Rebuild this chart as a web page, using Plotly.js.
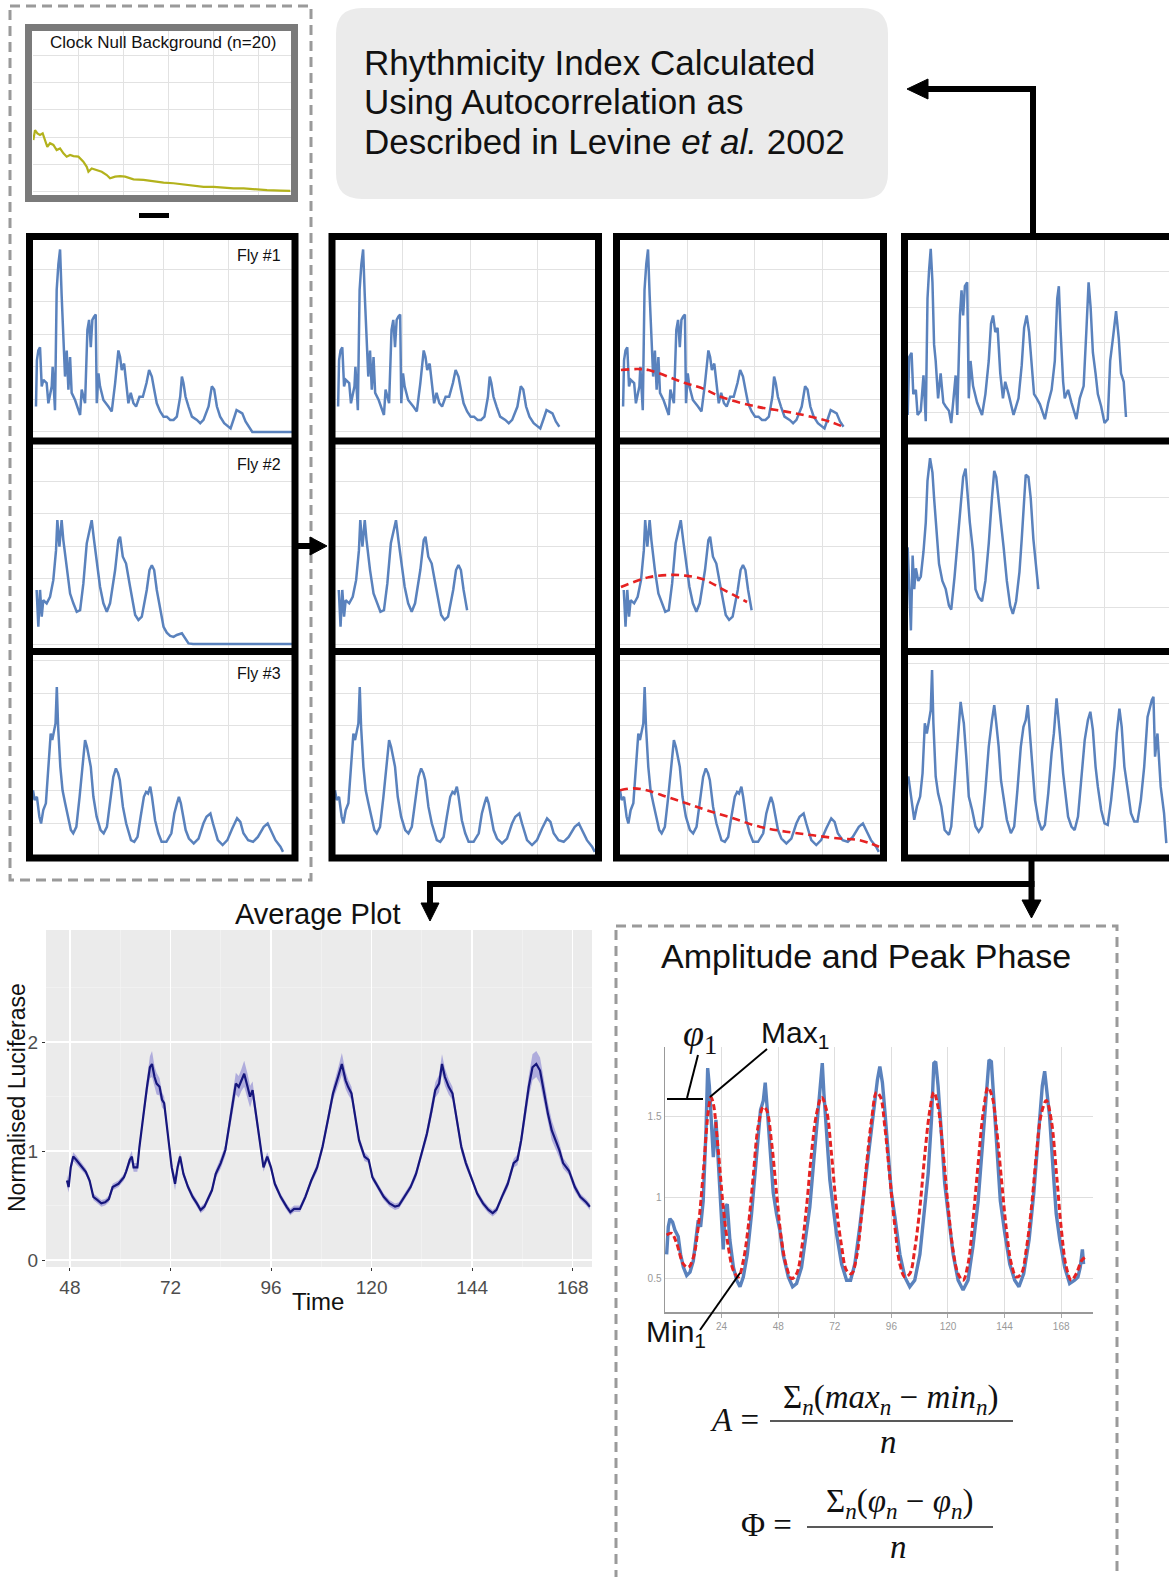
<!DOCTYPE html>
<html>
<head>
<meta charset="utf-8">
<script src="https://cdn.plot.ly/plotly-3.0.1.min.js"></script>
<style>body{margin:0;background:#fff}#myDiv{width:1169px;height:1577px}</style>
</head>
<body>
<div id="myDiv"></div>
<script>
// clock null background (mean of 20 flies)
var nullT = [0.3,1.8,3.9,6.2,8.6,10.7,12.7,15.1,18.1,21,24,27,29.9,32.9,35.9,40.3,44.7,47.7,49.2,52.1,56.6,61,65.5,68.4,72.9,77.3,81.8,89.2,98.1,107,115.9,124.7,133.6,142.5,151.4,160.3,169.2,178,187,195.9,207.7,219.6,228.4];
var nullY = [1.9,2.26,2.14,2.08,2.14,1.9,1.65,1.78,1.72,1.53,1.59,1.41,1.29,1.35,1.31,1.29,1.11,0.92,0.74,0.86,0.8,0.74,0.62,0.5,0.56,0.58,0.56,0.46,0.44,0.38,0.34,0.32,0.28,0.24,0.19,0.19,0.16,0.13,0.13,0.1,0.07,0.05,0.04];

// raw traces
var fly1T = [2.3,3,4.1,5.4,6.7,8,10.5,11.8,14.4,15.1,16.9,18.2,19.5,20.8,22,23.3,24.6,25.9,27.2,28.5,29.7,32.3,34.9,36.2,37.4,40,41.8,43.1,44.4,45.6,46.9,48.2,49,50.3,51.5,54.1,57.9,60.5,63.1,65.6,66.9,68.2,70,71.5,73.3,75.1,77.2,79.2,81.8,84.4,87.2,89.2,91.3,93.1,95.1,97.7,100.3,102.8,105.4,108,110.5,113.1,114.4,115.6,117.2,119.5,122.1,125.9,128.5,131,134.9,137.4,139.2,141.3,143.8,146.9,151.8,154.4,156.4,158.2,160.8,163.3,165.9,168.5,199];
var fly1Y = [0.78,2.2,2.5,2.6,1.4,1.6,1.5,0.88,1.4,2.0,0.67,4.36,5.15,5.6,4.2,2.7,1.7,2.5,1.3,2.3,1.2,0.98,0.67,0.52,1.3,0.88,3.13,3.44,2.6,3.44,3.54,3.6,0.88,1.8,1.4,0.98,0.78,0.63,1.5,2.5,2.3,1.9,2.1,1.5,0.88,1.2,0.88,0.78,1.08,1.08,1.5,1.9,1.7,1.3,0.88,0.63,0.47,0.47,0.37,0.37,0.47,1.08,1.7,1.5,1.08,0.78,0.47,0.37,0.27,0.37,0.78,1.4,1.3,0.78,0.47,0.27,0.11,0.42,0.67,0.63,0.57,0.32,0.16,0,0];
var fly2T = [2.8,4.1,5.4,6.7,7.9,10.5,13.1,15.6,17.7,18.7,20.3,22,23.3,25.9,28.5,31,33.6,36.2,38.7,41.3,43.3,45.1,46.9,49,51.5,54.1,56.7,59.2,63.1,65.6,66.9,69,71.5,74.6,78.5,81,83.6,87.4,89.5,91.3,93.1,95.1,97.7,100.3,102.8,105.4,108,110.5,114.4,117,119.5,123,199];
var fly2Y = [1.66,0.53,1.66,0.84,1.35,1.25,1.45,1.96,2.88,3.8,2.99,3.8,3.19,2.27,1.55,1.25,0.99,1.04,1.86,3.09,3.5,3.8,3.19,2.47,1.76,1.25,0.99,1.25,2.27,3.19,3.29,2.68,2.47,1.76,0.89,0.74,0.84,1.66,2.27,2.42,2.27,1.66,1.04,0.53,0.35,0.25,0.22,0.28,0.33,0.17,0.02,0,0];
var fly3T = [0,1.2,3,4.9,6.2,7.9,9.9,12.3,13.6,14.8,16.1,17.3,18.3,19.3,21,22.7,24.7,27.2,29.1,30.9,33.3,35.8,38.3,40,41.5,43.2,44.4,46.4,48.9,51.9,54.3,56.8,59.3,61.7,63.7,65.4,66.7,69.1,71.6,75.3,77.8,80.3,82.7,85.2,86.9,88.4,90.1,91.4,93.8,96.3,98.8,102.5,106.3,108.6,110.6,112.1,113.6,114.8,117.3,119.8,123.5,127.2,130.9,133.3,136.3,138.3,142,145.7,149.3,153.1,156.8,159.3,161.7,165.3,169.1,172.8,177.3,180.3,182.7,186.3,190.1,192.1];
var fly3Y = [2.02,1.72,1.82,1.21,1.0,1.41,1.62,2.94,3.76,3.56,3.87,4.07,5.19,3.97,2.74,2.02,1.62,1.1,0.8,0.7,0.9,1.82,2.94,3.56,3.35,3.05,2.74,1.82,1.21,0.8,0.7,0.9,1.72,2.43,2.69,2.54,2.33,1.51,1.0,0.49,0.44,0.59,1.21,1.82,1.97,1.92,2.13,1.82,1.1,0.7,0.44,0.44,0.7,1.31,1.62,1.82,1.62,1.31,0.8,0.54,0.39,0.54,1.0,1.21,1.31,1.0,0.49,0.34,0.49,0.85,1.16,1.05,0.7,0.49,0.44,0.59,0.9,1.0,0.8,0.49,0.29,0.13];

// last hour kept once the dead tail is removed
var fly1Cut = 166;
var fly2Cut = 98;
var fly3Cut = 200;

// fitted trends (red dashed)
var trend1T = [0.7,13.3,21.3,48.3,62.3,75.3,102.3,129.3,156.3,166];
var trend1Y = [1.9,1.93,1.9,1.5,1.32,1.07,0.77,0.58,0.31,0.15];
var trend2T = [0.7,21.3,37.3,48.3,62.3,75.3,94.3];
var trend2Y = [1.75,2.05,2.12,2.1,1.98,1.7,1.29];
var trend3T = [0,10,19.8,34.6,49.3,64.3,84,103.7,123.3,143.3,163,177.8,192.3];
var trend3Y = [2.02,2.08,2.02,1.82,1.62,1.41,1.16,0.9,0.75,0.64,0.54,0.49,0.29];

// detrended traces
var det1T = [3.5,4.7,6.4,7.7,9.6,10.9,13.3,15.3,17,18.3,19.5,20.7,22,23.2,24.4,26.2,28.1,30.1,31.9,34.3,36,38,39.3,40.5,42.5,43.7,44.9,46.2,47.9,49.1,50.4,52.3,55.3,59,61.5,64,65.7,67.2,68.9,70.6,72.6,74.6,76.3,78.8,82.5,86.2,88.6,90.4,92.3,94.1,96,97.8,99.8,102.2,105.9,108.4,110.9,113.3,115.1,116.3,117.5,119.5,120.7,123.2,125.7,129.4,131.9,134.8,136.8,138.5,140,141.7,143.7,145.4,147.9,150.4,152.8,154.6,156.5,159,161,162.7,164.7,166.4];
var det1Y = [0.94,2.59,2.7,1.53,1.65,0.94,1.06,2.06,0.76,4.24,5.06,5.65,4.7,2.94,2.47,1.41,2.12,1.29,1.18,1.06,0.71,1.53,2.06,0.94,3.76,4.47,3.76,4.59,4.7,1.41,2.47,1.76,1.29,0.94,1.53,2.47,3.53,3.76,3.29,3.41,2.12,1.41,1.88,1.53,0.94,1.41,2.35,3.41,3.76,3.29,2.47,1.53,1.41,1.24,0.82,1.29,1.65,2.47,4.24,4.59,3.41,1.88,1.41,1.65,1.29,0.82,1.41,1.76,3.29,4.7,4.0,2.71,2.12,1.53,1.18,0.71,0.82,2.47,3.06,3.88,3.12,2.12,1.88,0.88];
var det2T = [3.5,4.7,5.9,7.2,8.4,9.6,11.4,13.3,15.3,17,18.3,20.2,22,23.2,25.2,26.9,29.4,31.9,34.3,36,38.5,41,43,44.9,46.7,47.9,49.9,52.3,54.1,56.5,59,61.5,64,66.4,68.1,69.6,71.4,73.1,75.1,77.5,80,82,84.4,86.9,88.6,90.4,91.6,93.6,95.3,97.3,99.3,101];
var det2Y = [2.1,1.12,0.59,1.95,1.34,1.72,1.49,1.57,2.02,2.55,3.31,3.72,3.46,3.0,2.4,1.8,1.49,1.34,1.04,0.97,1.57,2.25,2.93,3.38,3.53,3.15,2.55,2.02,1.34,1.19,1.12,1.49,2.17,3.0,3.49,3.38,3.0,2.55,2.1,1.49,1.04,0.89,1.12,1.65,2.25,3.08,3.42,3.38,3.0,2.25,1.72,1.34];
var det3T = [4,5.9,8.4,10.4,12.8,14.6,16.3,17.8,19.5,20.7,21.7,22.7,24.4,26.2,28.6,31.1,34.3,36,38.5,41,43,44.2,45.4,47.4,49.1,51.6,54.1,56.5,59,61.5,64,66.4,68.1,69.6,71.4,73.1,75.1,77.5,80.5,83,85.4,87.9,89.9,91.6,93.1,94.8,96.8,98.5,101,103.5,105.9,108.4,110.9,112.6,114.6,116.3,117.5,119.5,121.5,123.2,125.7,128.1,130.6,133.1,135.6,138,139.8,141.7,143.7,145.4,147.9,150.4,152.8,155.3,157.8,159.5,161.5,163.2,165.2,167.7,170.1,172.6,175,177.5,180,182.5,184.2,185.7,186.9,188.1,189.9,192.3,194.8,196.5];
var det3Y = [2.14,1.63,1.04,1.38,1.63,2.22,3.49,3.23,3.65,3.82,4.84,3.49,2.14,1.71,1.38,0.78,0.66,0.87,1.97,3.23,4.03,3.74,3.49,2.56,1.63,1.29,0.87,0.74,0.87,1.8,2.89,3.57,3.95,3.49,2.89,2.05,1.54,1.04,0.7,0.87,1.8,2.89,3.4,3.57,3.95,3.23,2.22,1.54,1.04,0.78,0.91,1.71,2.73,3.23,4.12,3.57,3.06,2.22,1.63,1.12,0.87,0.78,1.12,2.14,3.06,3.57,3.78,3.32,2.39,1.88,1.29,0.95,0.91,1.54,2.39,3.23,3.86,3.4,2.39,1.8,1.21,1.0,1.0,1.54,2.39,3.65,3.91,4.08,4.16,2.64,3.23,1.88,1.21,0.45];

// average plot
var avgT = [47.3,47.7,48.2,48.8,49.5,50.9,51.8,52.7,53.6,54.6,55.5,56.4,57.3,58.2,59.6,60.9,61.4,62.3,62.8,63.2,64.1,64.6,65.5,66.4,67.1,67.6,68.2,68.7,69.4,70,70.5,71.4,72.3,73.1,73.7,74.3,75.1,76.2,77.3,78.3,79.2,80.1,81,81.9,82.8,84,85.1,86,86.9,87.6,88.3,88.9,89.6,90.4,91,91.6,92.4,93.3,94.2,95.1,96,96.9,98.3,99.7,100.6,101.5,102.9,104.2,105.6,107,108.3,109.7,110.8,112,112.9,113.8,114.4,115.2,116.1,117,118.3,119.3,120.2,121.5,122.9,124.3,125.6,126.5,127.9,129.3,130.6,132,133.2,134.3,135.2,136.1,136.8,137.5,138.4,139.3,140.2,141.4,142.5,143.8,145.2,146.6,147.9,148.9,149.8,151.1,152.5,153.9,154.8,155.7,156.6,157.5,158.4,159.3,160.2,161.2,162.1,163,163.9,164.8,165.7,167.1,168.5,169.8,171.2,172.1];
var avgY = [0.73,0.67,0.85,0.95,0.92,0.85,0.81,0.73,0.58,0.55,0.52,0.53,0.56,0.67,0.7,0.76,0.81,0.92,0.95,0.85,0.85,1.04,1.34,1.59,1.77,1.8,1.68,1.62,1.59,1.47,1.44,1.16,0.85,0.7,0.85,0.95,0.79,0.67,0.58,0.52,0.46,0.49,0.56,0.64,0.79,0.89,1.01,1.22,1.47,1.62,1.59,1.65,1.71,1.59,1.5,1.56,1.34,1.07,0.85,0.95,0.85,0.7,0.58,0.49,0.44,0.47,0.47,0.58,0.73,0.85,1.04,1.31,1.53,1.68,1.8,1.65,1.59,1.53,1.31,1.1,0.95,0.92,0.76,0.67,0.58,0.52,0.49,0.5,0.58,0.67,0.79,0.98,1.16,1.37,1.56,1.62,1.8,1.68,1.59,1.53,1.31,1.04,0.89,0.76,0.61,0.52,0.46,0.43,0.46,0.58,0.7,0.89,0.92,1.1,1.34,1.59,1.77,1.8,1.74,1.53,1.34,1.19,1.1,1.01,0.89,0.82,0.67,0.58,0.53,0.49];
var avgSE = [0.05,0.05,0.04,0.04,0.04,0.03,0.03,0.03,0.03,0.03,0.03,0.03,0.03,0.03,0.03,0.03,0.03,0.04,0.05,0.04,0.04,0.05,0.06,0.08,0.1,0.12,0.1,0.1,0.08,0.07,0.06,0.05,0.05,0.06,0.05,0.04,0.03,0.03,0.03,0.03,0.03,0.03,0.03,0.03,0.04,0.05,0.05,0.06,0.07,0.1,0.1,0.1,0.12,0.12,0.1,0.08,0.06,0.05,0.04,0.04,0.04,0.03,0.03,0.03,0.03,0.03,0.03,0.03,0.03,0.04,0.04,0.05,0.06,0.08,0.1,0.08,0.07,0.06,0.05,0.04,0.04,0.03,0.03,0.03,0.03,0.03,0.03,0.03,0.03,0.03,0.04,0.04,0.05,0.06,0.07,0.08,0.09,0.08,0.07,0.06,0.05,0.05,0.04,0.03,0.03,0.03,0.03,0.03,0.03,0.03,0.04,0.04,0.05,0.06,0.08,0.1,0.12,0.12,0.12,0.1,0.1,0.09,0.08,0.07,0.05,0.04,0.04,0.03,0.03,0.03];
var avgTicks = [48,72,96,120,144,168];

// amplitude / phase example
var ampT = [0.7,1.4,2.1,3.2,4.2,5.6,6.6,7.8,9.2,10.6,12,13.1,14.1,15.1,16.2,17.4,18.1,18.8,19.5,20.5,21.6,22.6,23.6,24.7,25.6,26.4,27.5,29,30.4,31.8,33.2,34.9,36.7,38.8,40.5,41.7,42.5,43.4,44.5,45.9,47.3,48.7,50.1,52.3,54.1,55.8,57.9,60,61.4,63.1,65,66.1,66.7,67.4,68.5,69.9,71.3,72.7,74.9,77,78.7,80.5,82.6,84.7,86.9,89,90.1,91.1,92.2,93.2,94.6,96,97.5,99.6,101.7,103.8,105.9,108.1,109.7,111.6,113,114,114.8,115.8,117.2,118.6,120.1,122.2,124.3,126.4,128.5,130.6,132.8,134.9,136.3,137.4,138.4,139.4,140.8,142.2,144.1,146.2,148.3,150.1,152.1,154.4,156.4,158.2,160,161,162,163.1,164.5,165.9,167.4,169.5,171.6,173.7,175.1,176.1,177,177.5];
var ampY = [0.65,0.82,0.87,0.85,0.8,0.76,0.65,0.57,0.52,0.54,0.61,0.74,0.86,0.82,0.98,1.42,1.8,1.69,1.5,1.25,1.48,1.19,0.96,0.68,0.94,0.96,0.74,0.57,0.49,0.45,0.51,0.65,0.9,1.23,1.54,1.6,1.71,1.54,1.31,1.03,0.9,0.8,0.65,0.51,0.45,0.47,0.57,0.78,0.94,1.23,1.54,1.75,1.83,1.64,1.4,1.11,0.94,0.78,0.59,0.49,0.49,0.59,0.82,1.07,1.34,1.62,1.73,1.81,1.71,1.54,1.29,1.03,0.88,0.65,0.51,0.45,0.49,0.65,0.88,1.15,1.48,1.83,1.84,1.69,1.4,1.09,0.9,0.65,0.49,0.43,0.49,0.7,0.98,1.36,1.66,1.85,1.84,1.6,1.29,0.98,0.78,0.59,0.49,0.45,0.53,0.74,1.03,1.36,1.69,1.78,1.64,1.5,1.19,0.9,0.74,0.57,0.47,0.49,0.51,0.57,0.68,0.59];
var fitT = [0.7,2.8,4.9,7.8,9.9,12,14.1,16.2,18.4,19.5,20.5,22.6,24.7,26.8,29,31.1,33.2,35.3,37.4,39.5,41.7,43.1,45.2,47.3,49.4,51.6,53.7,55.8,57.9,60,62.1,64.3,66.4,68.5,70.6,72.7,74.9,77,79.1,81.2,83.3,85.5,87.6,89.7,91.4,93.2,95.3,97.5,99.6,101.7,103.8,105.9,108.1,110.2,112.3,114,115.8,117.9,120.1,122.2,124.3,126.4,128.5,130.6,132.8,134.9,137,138.8,140.5,142.7,144.8,146.9,149,151.1,153.2,155.4,157.5,159.6,161.7,163.8,166,168.1,170.2,172.3,174.4,176.6,178];
var fitY = [0.77,0.78,0.72,0.59,0.57,0.63,0.82,1.15,1.54,1.62,1.58,1.29,0.94,0.7,0.55,0.51,0.61,0.82,1.13,1.44,1.56,1.54,1.34,1.03,0.74,0.57,0.5,0.53,0.68,0.94,1.27,1.52,1.62,1.54,1.27,0.94,0.7,0.55,0.53,0.63,0.88,1.21,1.48,1.65,1.62,1.44,1.13,0.82,0.59,0.51,0.53,0.68,0.94,1.27,1.54,1.65,1.56,1.29,0.94,0.67,0.53,0.49,0.59,0.86,1.21,1.52,1.68,1.62,1.44,1.11,0.8,0.59,0.51,0.53,0.68,0.94,1.27,1.52,1.6,1.48,1.15,0.8,0.57,0.49,0.53,0.61,0.63];
var ampXTicks = [24,48,72,96,120,144,168];
var ampYTicks = [0.5,1,1.5];

var flyLabels = ['Fly #1','Fly #2','Fly #3'];

var W = 1169, H = 1577;
var SANS = 'Liberation Sans, Arial, sans-serif';
var SERIF = 'Liberation Serif, Times New Roman, serif';
var BLUE = '#5a82bd', RED = '#e62222';

function px(x){ return x / W; }
function py(y){ return 1 - y / H; }

var layout = {
  width: W, height: H,
  margin: {l:0, r:0, t:0, b:0},
  showlegend: false,
  paper_bgcolor: 'white',
  plot_bgcolor: 'rgba(0,0,0,0)',
  shapes: [],
  annotations: []
};
var data = [];
var nAx = 0;

function panel(bx, xr, yr, dx, dy, xo, yo){
  nAx++;
  var s = nAx === 1 ? '' : String(nAx);
  var base = {showticklabels:false, ticks:'', zeroline:false, showgrid:true, gridcolor:'#e2e2e2', gridwidth:1, fixedrange:true, showline:false};
  layout['xaxis'+s] = Object.assign({}, base, {domain:[px(bx[0]), px(bx[2])], range:xr, anchor:'y'+s, tick0:0, dtick:dx}, xo||{});
  layout['yaxis'+s] = Object.assign({}, base, {domain:[py(bx[3]), py(bx[1])], range:yr, anchor:'x'+s, tick0:0, dtick:dy}, yo||{});
  return {xaxis:'x'+s, yaxis:'y'+s};
}
function line(ax, x, y, color, width, dash, shape){
  data.push({type:'scatter', mode:'lines', x:x, y:y, xaxis:ax.xaxis, yaxis:ax.yaxis,
    line:{color:color, width:width, dash:dash||'solid', shape:shape||'linear'}, hoverinfo:'skip'});
}
function upTo(T, Y, cut){
  var t = [], y = [];
  for (var i = 0; i < T.length; i++){ if (T[i] <= cut){ t.push(T[i]); y.push(Y[i]); } }
  return [t, y];
}
function seg(x0,y0,x1,y1,w,c,dash){
  layout.shapes.push({type:'line', xref:'paper', yref:'paper', x0:px(x0), y0:py(y0), x1:px(x1), y1:py(y1),
    line:{color:c||'black', width:w, dash:dash||'solid'}});
}
function rect(x0,y0,x1,y1,w,c,dash,fill,layer){
  layout.shapes.push({type:'rect', xref:'paper', yref:'paper', x0:px(x0), y0:py(y0), x1:px(x1), y1:py(y1),
    line:{color:c||'black', width:w, dash:dash||'solid'}, fillcolor:fill||'rgba(0,0,0,0)', layer:layer||'above'});
}
function tri(a, b, c){
  var d = 'M' + px(a[0]) + ',' + py(a[1]) + ' L' + px(b[0]) + ',' + py(b[1]) + ' L' + px(c[0]) + ',' + py(c[1]) + ' Z';
  layout.shapes.push({type:'path', xref:'paper', yref:'paper', path:d, fillcolor:'black', line:{color:'black', width:1}});
}
function txt(x, y, t, size, o){
  layout.annotations.push(Object.assign({xref:'paper', yref:'paper', x:px(x), y:py(y), text:t, showarrow:false,
    xanchor:'center', yanchor:'middle', font:{family:SANS, size:size, color:'#111'}}, o||{}));
}

// ---- clock null panel
var axN = panel([33,31,291,195], [0,229], [-0.11,5.88], 40, 1);
line(axN, nullT, nullY, '#b3b21c', 2.2);
rect(28.5, 27.5, 294.5, 198.5, 7, '#7a7a7a');
txt(163, 43, 'Clock Null Background (n=20)', 17);
rect(139, 213, 169, 218, 0, 'black', 'solid', 'black');

// ---- 3 flies x 4 processing steps
var colIn = [[33,292],[335,596],[620,880],[907,1169]];
var colX = [[0,199],[0,193],[0,193],[3,198.5]];
var rowIn = [[240,437.5],[444.5,648],[655,854.5]];
var rowY = [[-0.17,5.89],[-0.12,6.12],[0.05,6.17]];
var detY = [[0.3,5.9],[0.27,3.97],[0.16,5.22]];
var raw = [[fly1T,fly1Y,fly1Cut],[fly2T,fly2Y,fly2Cut],[fly3T,fly3Y,fly3Cut]];
var trends = [[trend1T,trend1Y],[trend2T,trend2Y],[trend3T,trend3Y]];
var dets = [[det1T,det1Y],[det2T,det2Y],[det3T,det3Y]];

for (var r = 0; r < 3; r++){
  for (var c = 0; c < 4; c++){
    var bx = [colIn[c][0], rowIn[r][0], colIn[c][1], rowIn[r][1]];
    var ax = panel(bx, colX[c], c === 3 ? detY[r] : rowY[r], 50, 1);
    if (c === 0){
      line(ax, raw[r][0], raw[r][1], BLUE, 2.5);
    } else if (c < 3){
      var cutD = upTo(raw[r][0], raw[r][1], raw[r][2]);
      line(ax, cutD[0], cutD[1], BLUE, 2.5);
      if (c === 2) line(ax, trends[r][0], trends[r][1], RED, 2.6, '8px,5px', 'spline');
    } else {
      line(ax, dets[r][0], dets[r][1], BLUE, 2.5);
    }
  }
  txt(283, [255, 464, 673][r], flyLabels[r], 16, {xanchor:'right'});
}
var colB = [[29.5,295],[332,598.5],[616.5,883.5],[904.5,1185]];
colB.forEach(function(b){
  rect(b[0], 236.5, b[1], 858, 7, 'black');
  seg(b[0], 441, b[1], 441, 7);
  seg(b[0], 651.5, b[1], 651.5, 7);
});

// ---- dashed grouping boxes
rect(10, 6, 311, 880, 3, '#9a9a9a', '10px,6px');
rect(616, 926, 1117, 1600, 3, '#9a9a9a', '10px,6px');

// ---- rounded text box
(function(){
  var x0 = 336, y0 = 8, x1 = 888, y1 = 199, rr = 26;
  function P(x, y){ return px(x) + ',' + py(y); }
  var d = 'M' + P(x0+rr,y0) + ' L' + P(x1-rr,y0) + ' Q' + P(x1,y0) + ' ' + P(x1,y0+rr) +
          ' L' + P(x1,y1-rr) + ' Q' + P(x1,y1) + ' ' + P(x1-rr,y1) +
          ' L' + P(x0+rr,y1) + ' Q' + P(x0,y1) + ' ' + P(x0,y1-rr) +
          ' L' + P(x0,y0+rr) + ' Q' + P(x0,y0) + ' ' + P(x0+rr,y0) + ' Z';
  layout.shapes.push({type:'path', xref:'paper', yref:'paper', path:d, fillcolor:'#ebebeb', line:{width:0}, layer:'below'});
})();
txt(362, 63, 'Rhythmicity Index Calculated', 35, {xanchor:'left'});
txt(362, 102, 'Using Autocorrelation as', 35, {xanchor:'left'});
txt(362, 141, 'Described in Levine <i>et al.</i> 2002', 35, {xanchor:'left'});

// ---- arrows
seg(1033, 236, 1033, 86, 6);
seg(1036, 89, 924, 89, 6);
tri([907,89],[928,79],[928,99]);
seg(297, 546, 312, 546, 6);
tri([327,546],[310,537],[310,555]);
seg(1031.5, 858, 1031.5, 902, 6);
seg(427, 884, 1034.5, 884, 6);
seg(430, 881, 430, 904, 6);
tri([1031.5,918],[1022,900],[1041,900]);
tri([430,921],[421,903],[439,903]);

// ---- average plot
rect(46, 930, 592, 1267, 0, '#ebebeb', 'solid', '#ebebeb', 'below');
var axA = panel([46,930,592,1267], [42.3,172.6], [-0.064,3.03], 24, 1,
  {tickmode:'array', tickvals:avgTicks, showticklabels:true, ticks:'outside', ticklen:3, tickcolor:'#333',
   tickfont:{family:SANS, size:19, color:'#4d4d4d'}, gridcolor:'#ffffff', gridwidth:1.4, ticklabelstandoff:0,
   minor:{tickvals:[60,84,108,132,156], showgrid:true, gridcolor:'#f4f4f4', gridwidth:0.7}},
  {tickmode:'array', tickvals:[0,1,2], showticklabels:true, ticks:'outside', ticklen:3, tickcolor:'#333',
   tickfont:{family:SANS, size:19, color:'#4d4d4d'}, gridcolor:'#ffffff', gridwidth:1.4, ticklabelstandoff:0,
   minor:{tickvals:[0.5,1.5,2.5], showgrid:true, gridcolor:'#f4f4f4', gridwidth:0.7}});
var lo = avgY.map(function(v, i){ return v - avgSE[i]; });
var hi = avgY.map(function(v, i){ return v + avgSE[i]; });
data.push({type:'scatter', mode:'lines', x:avgT, y:lo, xaxis:axA.xaxis, yaxis:axA.yaxis, line:{width:0, color:'rgba(0,0,0,0)'}, hoverinfo:'skip'});
data.push({type:'scatter', mode:'lines', x:avgT, y:hi, xaxis:axA.xaxis, yaxis:axA.yaxis, line:{width:0, color:'rgba(0,0,0,0)'}, fill:'tonexty', fillcolor:'rgba(115,110,205,0.5)', hoverinfo:'skip'});
line(axA, avgT, avgY, '#16167c', 2.2);
txt(318, 914, 'Average Plot', 29);
txt(318, 1301, 'Time', 24);
txt(17, 1098, 'Normalised Luciferase', 23, {textangle:-90});

// ---- amplitude and phase plot
var axP = panel([665,1047,1093,1312], [0,181.5], [0.294,1.93], 24, 0.5,
  {tickmode:'array', tickvals:ampXTicks, showticklabels:true, ticks:'outside', ticklen:4, tickcolor:'#aaa',
   tickfont:{family:SANS, size:10, color:'#999'}, showline:true, linecolor:'#999', linewidth:1.5, gridcolor:'#dedede'},
  {tickmode:'array', tickvals:ampYTicks, ticktext:['0.5','1','1.5'], showticklabels:true, ticks:'',
   tickfont:{family:SANS, size:10, color:'#999'}, showline:true, linecolor:'#999', linewidth:1.5, gridcolor:'#dedede'});
line(axP, ampT, ampY, BLUE, 3.4);
line(axP, fitT, fitY, RED, 3, '6px,3px', 'spline');
txt(866, 956, 'Amplitude and Peak Phase', 34);
txt(700, 1036, '<i>φ</i><sub>1</sub>', 38, {font:{family:SERIF, size:38, color:'#111'}});
txt(795, 1034, 'Max<sub>1</sub>', 30);
txt(676, 1333, 'Min<sub>1</sub>', 30);
seg(698, 1055, 687, 1098, 2);
seg(667, 1099, 703, 1099, 2);
seg(767, 1049, 710, 1097, 2);
seg(740, 1273, 700, 1330, 2);

// ---- formulas
var FF = {family:SERIF, size:33, color:'#111'};
txt(734, 1420, '<i>A</i> =', 33, {font:FF});
txt(891, 1399, 'Σ<sub><i>n</i></sub>(<i>max</i><sub><i>n</i></sub> − <i>min</i><sub><i>n</i></sub>)', 33, {font:FF});
seg(770, 1421, 1013, 1421, 1.5, '#222');
txt(888, 1442, '<i>n</i>', 33, {font:FF});
txt(766, 1525, 'Φ =', 33, {font:FF});
txt(900, 1503, 'Σ<sub><i>n</i></sub>(<i>φ</i><sub><i>n</i></sub> − <i>φ</i><sub><i>n</i></sub>)', 33, {font:FF});
seg(807, 1527, 993, 1527, 1.5, '#222');
txt(898, 1547, '<i>n</i>', 33, {font:FF});

Plotly.newPlot('myDiv', data, layout, {staticPlot:true, displayModeBar:false});
</script>
</body>
</html>
